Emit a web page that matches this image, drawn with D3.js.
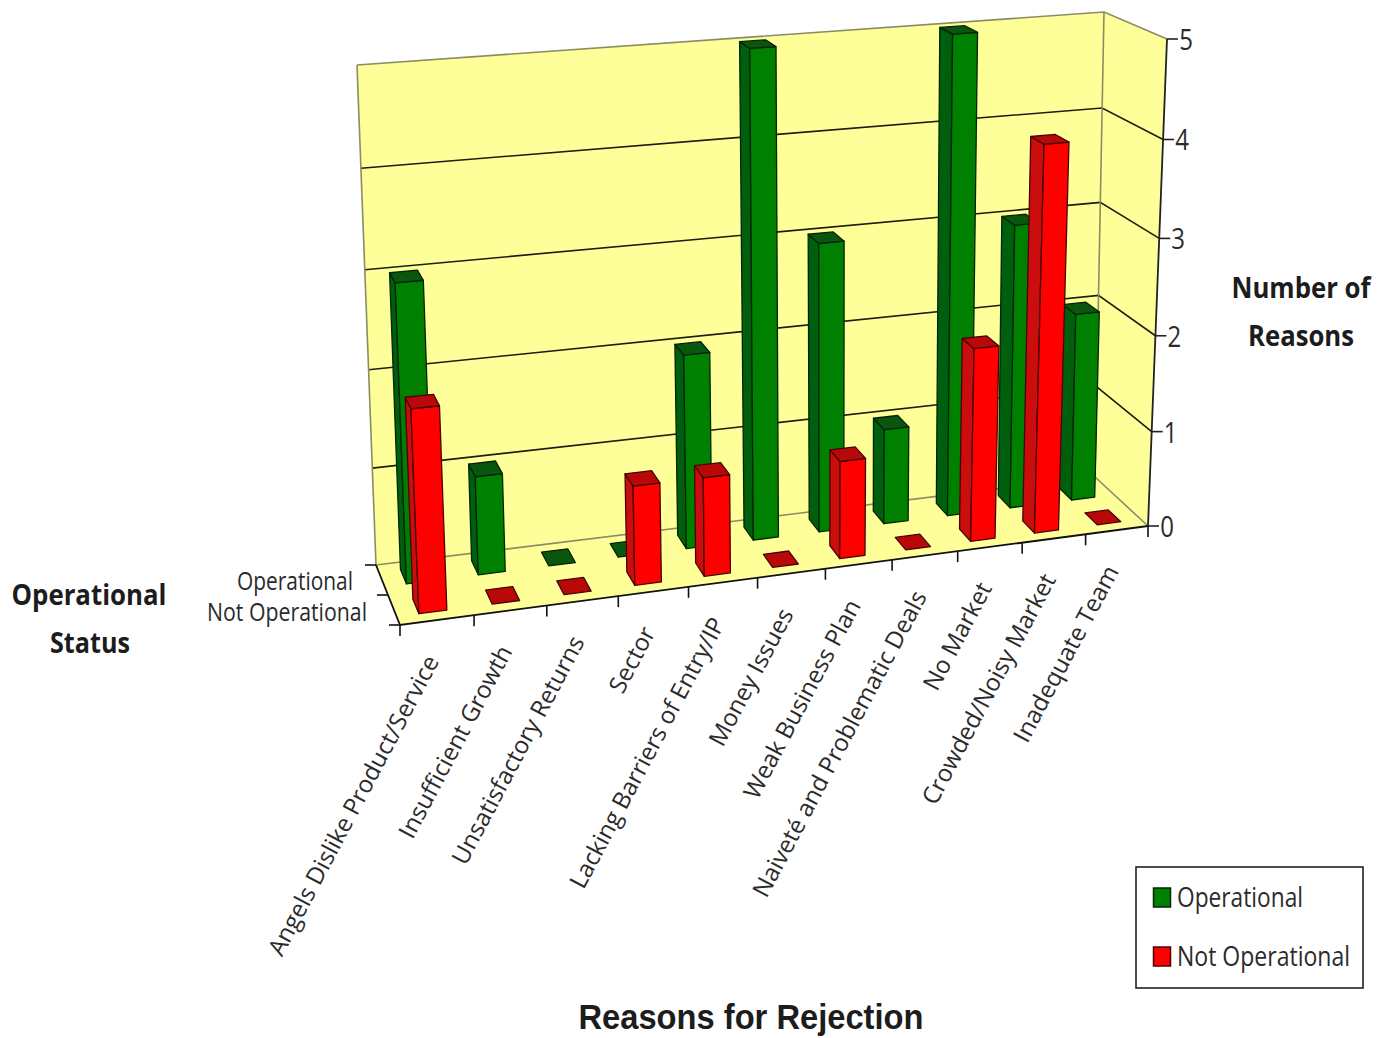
<!DOCTYPE html>
<html>
<head>
<meta charset="utf-8">
<script src="https://cdn.jsdelivr.net/npm/d3@7/dist/d3.min.js"></script>
<style>
html,body{margin:0;padding:0;background:#fff}
svg{display:block}
text{font-family:"Open Sans","Noto Sans",sans-serif;fill:#2b2b2b}
</style>
</head>
<body>
<svg id="chart" width="1390" height="1038"></svg>
<script>
const categories = ["Angels Dislike Product/Service","Insufficient Growth","Unsatisfactory Returns","Sector","Lacking Barriers of Entry/IP","Money Issues","Weak Business Plan","Naiveté and Problematic Deals","No Market","Crowded/Noisy Market","Inadequate Team"];
const statuses = ["Not Operational","Operational"];
const operational = [3,1,0,0,2,5,3,1,5,3,2];
const notOperational = [2,0,0,1,1,0,1,0,2,4,0];
const valueTicks = [0,1,2,3,4,5];

// Eight corners of the plot box on screen, as [x,y]: floor and ceiling, front and back.
const box = {
  floorFrontLeft:[400,625], floorFrontRight:[1148,526],
  floorBackLeft:[376,565], floorBackRight:[1095,477],
  topFrontLeft:[378,95], topFrontRight:[1167,39],
  topBackLeft:[357,65], topBackRight:[1104,12]
};
// Foreshortening of a unit coordinate along one axis.
const foreshorten = (t,r)=>t/(t+(1-t)*r);
const mix=(a,b,t)=>[a[0]+(b[0]-a[0])*t,a[1]+(b[1]-a[1])*t];

const xBand = d3.scaleBand().domain(categories).range([0,1]);
const zBand = d3.scaleBand().domain(statuses).range([0,1]);
const yScale = d3.scaleLinear().domain([0,5]).range([0,1]);
// Bar footprint relative to its band centre, in band units
const BAR_LEFT = 0.20, BAR_RIGHT = 0.18, BAR_NEAR = 0.11, BAR_FAR = 0.13;

// Map box coordinates (u across, w into depth, value up) to the screen.
function project(u,w,v){
  const uu=foreshorten(u,0.91), hh=foreshorten(yScale(v),1.04);
  const bf=mix(box.floorFrontLeft,box.floorFrontRight,uu);
  const bb=mix(box.floorBackLeft,box.floorBackRight,uu);
  const tf=mix(box.topFrontLeft,box.topFrontRight,uu);
  const tb=mix(box.topBackLeft,box.topBackRight,uu);
  return mix(mix(bf,bb,w),mix(tf,tb,w),hh);
}
const svg=d3.select("#chart");
const poly=d3.line();

// Back wall, right wall and floor
const wallFill="#ffff99", edge="#8c8c62";
const face=(pts,fill)=>svg.append("path").attr("d",poly(pts)+"Z").attr("fill",fill).attr("stroke","none");
face([project(0,1,0),project(1,1,0),project(1,1,5),project(0,1,5)],wallFill);
face([project(1,1,0),project(1,0,0),project(1,0,5),project(1,1,5)],wallFill);
face([project(0,0,0),project(1,0,0),project(1,1,0),project(0,1,0)],wallFill);

const strokeLine=(pts,color,width)=>svg.append("path").attr("d",poly(pts)).attr("fill","none").attr("stroke",color).attr("stroke-width",width);

// Gridlines across both walls
valueTicks.forEach(v=>{
  const major=v>0&&v<5;
  strokeLine([project(0,1,v),project(1,1,v),project(1,0,v)],major?"#1d1d10":edge,1.6);
});
strokeLine([project(0,1,0),project(0,1,5)],edge,1.6);
strokeLine([project(1,1,0),project(1,1,5)],edge,1.6);

// Box edges that carry ticks
strokeLine([project(0,1,0),project(0,0,0),project(1,0,0)],"#111",1.8);
strokeLine([project(1,0,0),project(1,0,5)],"#222",1.8);

// Value ticks and labels on the right edge
valueTicks.forEach(v=>{
  const p=project(1,0,v);
  strokeLine([p,[p[0]+11,p[1]]],"#222",1.6);
  svg.append("text").attr("transform",`translate(${p[0]+19},${p[1]+11}) scale(0.8,1)`)
    .attr("text-anchor","middle").attr("font-size",30).text(v);
});

// Category ticks and rotated labels on the front edge
d3.range(categories.length+1).forEach(i=>{
  const p=project(i/categories.length,0,0);
  strokeLine([p,[p[0],p[1]+11]],"#111",1.6);
});
categories.forEach(c=>{
  const p=project(xBand(c)+xBand.bandwidth()/2,0,0);
  svg.append("text").attr("transform",`translate(${p[0]-5},${p[1]+37}) rotate(-62)`)
    .attr("text-anchor","end").attr("dy","0.35em").attr("font-size",24).text(c);
});

// Depth ticks and status labels on the left edge
[0,0.5,1].forEach(w=>{
  const p=project(0,w,0);
  strokeLine([p,[p[0]-11,p[1]]],"#111",1.6);
});
[["Operational",295,581,116],["Not Operational",287,612,160]].forEach(([t,x,y,len])=>{
  svg.append("text").attr("x",x).attr("y",y).attr("text-anchor","middle").attr("dy","0.35em")
    .attr("font-size",25).attr("textLength",len).attr("lengthAdjust","spacingAndGlyphs").text(t);
});

// Bars, painted back row first and left to right
const palette={
  "Operational":{front:"#008000",side:"#005f0c",top:"#0a560f",line:"#042506"},
  "Not Operational":{front:"#ff0000",side:"#cc0d0d",top:"#b80808",line:"#480303"}
};
const rows=[["Operational",operational],["Not Operational",notOperational]];
rows.forEach(([status,values])=>{
  const col=palette[status];
  const wc=zBand(status)+zBand.bandwidth()/2;
  const bars=svg.append("g").selectAll("g").data(values).join("g");
  bars.each(function(v,i){
    const g=d3.select(this);
    const bw=xBand.bandwidth();
    const uc=xBand(categories[i])+bw/2;
    const u0=uc-BAR_LEFT*bw,u1=uc+BAR_RIGHT*bw,w0=wc-BAR_NEAR,w1=wc+BAR_FAR;
    const draw=(pts,fill)=>g.append("path").attr("d",poly(pts)+"Z").attr("fill",fill)
      .attr("stroke",col.line).attr("stroke-width",1.3).attr("stroke-linejoin","round");
    if(v>0){
      draw([project(u0,w1,0),project(u0,w0,0),project(u0,w0,v),project(u0,w1,v)],col.side);
      draw([project(u0,w0,0),project(u1,w0,0),project(u1,w0,v),project(u0,w0,v)],col.front);
    }
    draw([project(u0,w0,v),project(u1,w0,v),project(u1,w1,v),project(u0,w1,v)],col.top);
  });
});

// Axis titles
const title=(t,x,y,len,size,fam)=>svg.append("text").attr("x",x).attr("y",y).attr("text-anchor","middle")
  .attr("dy","0.35em").attr("font-weight","bold").attr("font-size",size).attr("textLength",len)
  .attr("lengthAdjust","spacingAndGlyphs").style("font-family",fam).style("fill","#1c1c1c").text(t);
title("Reasons for Rejection",751,1017,345,35,'"Liberation Sans",sans-serif');
title("Number of",1301,288,139,29,'"Open Sans",sans-serif');
title("Reasons",1301,336,106,29,'"Open Sans",sans-serif');
title("Operational",89,595,155,29,'"Open Sans",sans-serif');
title("Status",90,643,80,29,'"Open Sans",sans-serif');

// Legend
const legend=svg.append("g");
legend.append("rect").attr("x",1136).attr("y",867).attr("width",227).attr("height",121)
  .attr("fill","#fff").attr("stroke","#222").attr("stroke-width",1.6);
[["Operational",888,126],["Not Operational",947,173]].forEach(([t,y,len])=>{
  legend.append("rect").attr("x",1153.5).attr("y",y).attr("width",17).attr("height",19)
    .attr("fill",palette[t].front).attr("stroke",palette[t].line).attr("stroke-width",1.5);
  legend.append("text").attr("x",1177).attr("y",y+10).attr("dy","0.35em").attr("font-size",27)
    .attr("textLength",len).attr("lengthAdjust","spacingAndGlyphs").text(t);
});
</script>
</body>
</html>
